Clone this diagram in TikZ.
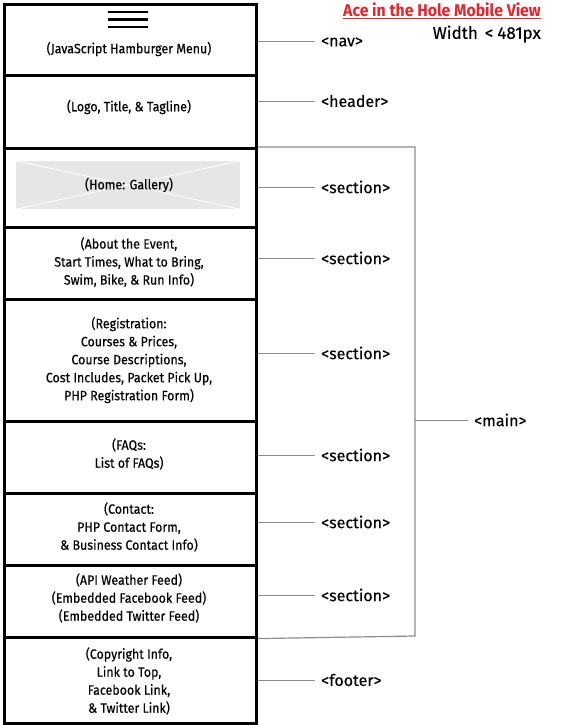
\documentclass[tikz,border=0pt]{standalone}
\usepackage{fontspec}
\setmainfont{Fira Sans}[FakeStretch=0.92,FakeBold=0.3]
\newfontfamily\lblfont{Fira Sans}[FakeBold=0.2]
\newfontfamily\titlefont{Fira Sans}[FakeStretch=0.93]
\definecolor{titlered}{HTML}{E3262E}
\definecolor{conn}{HTML}{8C8C8C}
\definecolor{galfill}{HTML}{E6E6E6}
\begin{document}
\begin{tikzpicture}[x=1pt,y=-1pt,
  box/.style={draw=black, line width=2.6pt, minimum width=252pt, inner sep=0pt, anchor=north west},
  boxtext/.style={align=center, inner sep=0pt, font=\fontsize{13.5}{18}\selectfont},
  lbl/.style={anchor=west, inner xsep=6pt, inner ysep=0pt, font=\lblfont\fontsize{16}{18}\selectfont},
  connector/.style={draw=conn, line width=1pt},
  bracket/.style={draw=conn, line width=1.2pt}]
\useasboundingbox (0,0) rectangle (564,725);

% boxes
\node[box, minimum height=71pt] (nav) at (3,3) {};
\node[box, minimum height=73pt] (header) at (3,74) {};
\node[box, minimum height=79pt] (sa) at (3,147) {};
\node[box, minimum height=72pt] (sb) at (3,226) {};
\node[box, minimum height=122pt] (sc) at (3,298) {};
\node[box, minimum height=72pt] (sd) at (3,420) {};
\node[box, minimum height=72pt] (se) at (3,492) {};
\node[box, minimum height=72pt] (sf) at (3,564) {};
\node[box, minimum height=86pt] (footer) at (3,636) {};

% hamburger
\coordinate (ham) at (128,19.5);
\foreach \dy in {-7.5,0,7.5}
  \draw[line width=2.6pt] ([xshift=-20pt,yshift=-\dy pt]ham) -- ([xshift=20pt,yshift=-\dy pt]ham);

% gallery placeholder
\node[fill=galfill, minimum width=224pt, minimum height=48pt, inner sep=0pt] (gal) at (128,185) {};
\draw[white, line width=0.8pt] (gal.north west) -- (gal.south east);
\draw[white, line width=0.8pt] (gal.south west) -- (gal.north east);

% box texts
\node[boxtext] (tnav) at (129,49) {(JavaScript Hamburger Menu)};
\node[boxtext] (theader) at (129,107) {(Logo, Title, \& Tagline)};
\node[boxtext] (tsa) at (129,185) {(Home: Gallery)};
\node[boxtext] (tsb) at (129,262) {(About the Event,\\Start Times, What to Bring,\\Swim, Bike, \& Run Info)};
\node[boxtext] (tsc) at (129,360) {(Registration:\\Courses \& Prices,\\Course Descriptions,\\Cost Includes, Packet Pick Up,\\PHP Registration Form)};
\node[boxtext] (tsd) at (129,454) {(FAQs:\\List of FAQs)};
\node[boxtext] (tse) at (129,527) {(Contact:\\PHP Contact Form,\\\& Business Contact Info)};
\node[boxtext] (tsf) at (129,598) {(API Weather Feed)\\(Embedded Facebook Feed)\\(Embedded Twitter Feed)};
\node[boxtext] (tfooter) at (129,681) {(Copyright Info,\\Link to Top,\\Facebook Link,\\\& Twitter Link)};

% labels
\node[lbl] (lnav) at (315,42) {<nav>};
\node[lbl] (lheader) at (315,101) {<header>};
\node[lbl] (lsa) at (315,187) {<section>};
\node[lbl] (lsb) at (315,258) {<section>};
\node[lbl] (lsc) at (315,353) {<section>};
\node[lbl] (lsd) at (315,455) {<section>};
\node[lbl] (lse) at (315,522) {<section>};
\node[lbl] (lsf) at (315,595) {<section>};
\node[lbl] (lfooter) at (315,680) {<footer>};
\node[lbl] (lmain) at (468,420) {<main>};

% connectors
\foreach \b/\l in {nav/lnav,header/lheader,sa/lsa,sb/lsb,sc/lsc,sd/lsd,se/lse,sf/lsf,footer/lfooter}
  \draw[connector] (\l.west -| \b.east) -- (\l.west);

% main bracket
\coordinate (btop) at (415,147);
\coordinate (bbot) at (415,636);
\draw[bracket] (sa.north east) -- (btop) -- (bbot) -- (sf.south east);
\draw[connector] (lmain.west -| btop) -- (lmain.west);

% title
\node[anchor=east, inner sep=0pt, text=titlered, font=\titlefont\fontsize{17}{20}\selectfont\bfseries] (title) at (541,11) {\underline{Ace in the Hole Mobile View}};
\node[anchor=east, inner sep=0pt, font=\lblfont\fontsize{17}{20}\selectfont] (width) at (541,34) {Width\hspace{7pt}<\hspace{4pt}481px};
\end{tikzpicture}
\end{document}
